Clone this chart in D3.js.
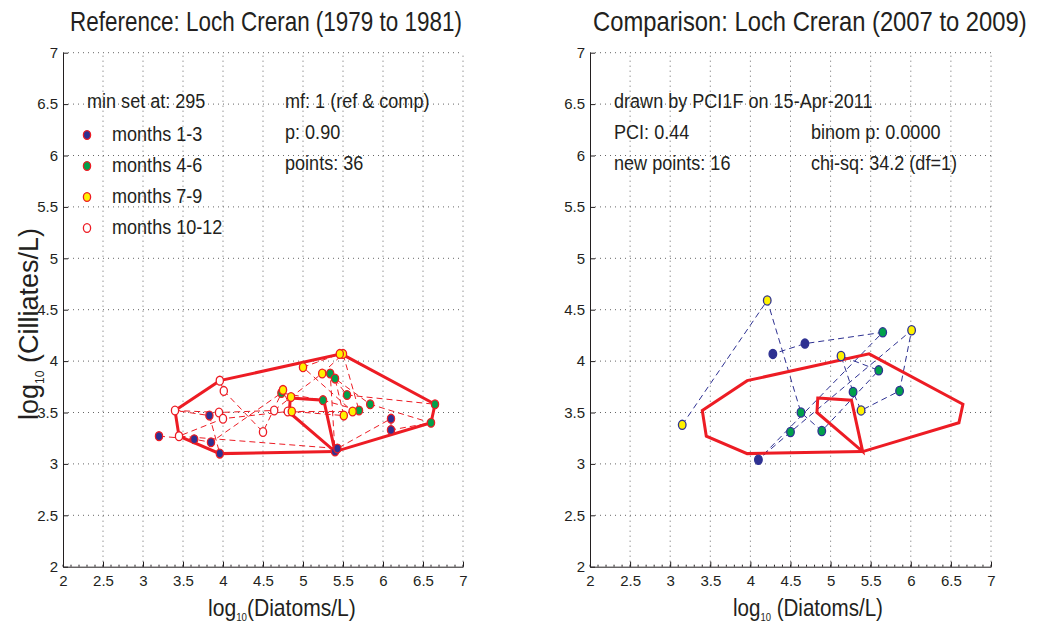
<!DOCTYPE html>
<html><head><meta charset="utf-8">
<script src="https://cdn.jsdelivr.net/npm/d3@7"></script>
<style>
body{margin:0;background:#fff;}
svg{display:block;}
text{font-family:"Liberation Sans Narrow","Arial Narrow","Liberation Sans",sans-serif;fill:#231f20;}
</style></head>
<body><svg id="c" width="1040" height="628"></svg>
<script>
// ---------- data ----------
const tickValues = [2,2.5,3,3.5,4,4.5,5,5.5,6,6.5,7];
const tickLabels = ["2","2.5","3","3.5","4","4.5","5","5.5","6","6.5","7"];
const groupNames = ["months 1-3","months 4-6","months 7-9","months 10-12"];

// reference 1979-1981, chronological order (group: 0 = months 1-3 ... 3 = months 10-12)
const refDiatoms = [3.20,3.64,3.85, 4.73,5.25,5.70, 5.50,5.24,4.85, 4.64,3.95,3.40,
                    3.83,3.96,5.40, 5.34,5.55,6.65, 5.46,5.00,5.62, 4.81,4.00,3.45,
                    5.43,6.10,6.10, 6.60,5.84,5.40, 5.51,4.86,4.75, 4.50,4.01,3.96];
const refCiliates = [3.27,3.24,3.21, 3.69,3.62,3.52, 4.07,3.88,3.65, 3.52,3.50,3.52,
                     3.47,3.10,3.12, 3.88,3.67,3.58, 4.07,3.94,3.51, 3.51,3.44,3.27,
                     3.15,3.44,3.33, 3.40,3.58,3.83, 3.47,3.51,3.72, 3.31,3.71,3.81];
const refGroup = [0,0,0,1,1,1,2,2,2,3,3,3, 0,0,0,1,1,1,2,2,2,3,3,3, 0,0,0,1,1,1,2,2,2,3,3,3];

// comparison 2007-2009
const cmpDiatoms  = [3.15,4.21,4.63,4.89,5.60,5.13,5.28,5.38,5.86,6.01,4.50,4.10,5.65,4.68,4.28];
const cmpCiliates = [3.38,4.59,3.50,3.32,3.91,4.05,3.70,3.52,3.71,4.30,3.31,3.04,4.28,4.17,4.07];
const cmpGroup    = [2,2,1,1,1,2,1,2,1,2,1,0,1,0,0];

// hull of the reference set
const hullOuterX = [3.40,3.96,5.48,6.65,6.60,5.40,3.96,3.45];
const hullOuterY = [3.52,3.81,4.07,3.58,3.40,3.12,3.10,3.27];
const hullInnerX = [4.84,5.26,5.40,4.83];
const hullInnerY = [3.64,3.62,3.12,3.50];

const refTitle = "Reference: Loch Creran (1979 to 1981)";
const cmpTitle = "Comparison: Loch Creran (2007 to 2009)";
const refNotesL = ["min set at: 295"];
const refNotesR = ["mf: 1 (ref & comp)","p: 0.90","points: 36"];
const cmpNotesL = ["drawn by PCI1F on 15-Apr-2011","PCI: 0.44","new points: 16"];
const cmpNotesR = ["binom p: 0.0000","chi-sq: 34.2 (df=1)"];

// ---------- drawing ----------
const RED="#ed1c24", NAVY="#2e3192", GREEN="#00a14b", YELLOW="#fff200";
const fills=[NAVY,GREEN,YELLOW,"#ffffff"];
const svg=d3.select("#c");
const yTop=52.7, yBot=566.7;

// place text at (x,y) and squeeze horizontally to a target width (mimics a condensed face)
function fit(t,x,y,w,rot){
  const bw=t.node().getBBox().width;
  const s=Math.min(1,w/bw);
  t.attr("transform",`translate(${x},${y})${rot?" rotate(-90)":""} scale(${s},1)`);
}

function panel(x0,x1,opts){
  const x=d3.scaleLinear().domain([2,7]).range([x0,x1]);
  const y=d3.scaleLinear().domain([2,7]).range([yBot,yTop]);
  const g=svg.append("g");
  g.selectAll(".gx").data(tickValues.slice(1)).join("line")
    .attr("x1",d=>x(d)).attr("x2",d=>x(d)).attr("y1",yBot).attr("y2",yTop)
    .attr("stroke","#666").attr("stroke-width",1).attr("stroke-dasharray","1,4");
  g.selectAll(".gy").data(tickValues.slice(1)).join("line")
    .attr("y1",d=>y(d)).attr("y2",d=>y(d)).attr("x1",x0).attr("x2",x1)
    .attr("stroke","#666").attr("stroke-width",1).attr("stroke-dasharray","1,4");
  const ax=g.append("g").attr("transform",`translate(0,${yBot})`)
    .call(d3.axisBottom(x).tickValues(tickValues).tickFormat((d,i)=>tickLabels[i]).tickSizeInner(-5).tickSizeOuter(0).tickPadding(9));
  const ay=g.append("g").attr("transform",`translate(${x0},0)`)
    .call(d3.axisLeft(y).tickValues(tickValues).tickFormat((d,i)=>tickLabels[i]).tickSizeInner(-5).tickSizeOuter(0).tickPadding(5));
  [ax,ay].forEach(a=>{a.select(".domain").attr("stroke","#231f20");a.selectAll("line").attr("stroke","#231f20");
    a.selectAll("text").attr("font-size",15).attr("fill","#231f20").style("font-family",'"Liberation Sans Narrow","Arial Narrow",sans-serif');});
  const minor=d3.range(2,7.001,0.1);
  g.selectAll(".mt").data(minor).join("line").attr("x1",d=>x(d)).attr("x2",d=>x(d))
    .attr("y1",yBot).attr("y2",yBot-2).attr("stroke","#231f20");
  const tt=g.append("text").attr("font-size",28).text(opts.title);
  fit(tt,opts.titleX,31,opts.titleLen);
  const xl=g.append("text").attr("font-size",24);
  xl.append("tspan").text("log");
  xl.append("tspan").attr("font-size",11).attr("dy",5).text("10");
  xl.append("tspan").attr("dy",-5).text(opts.xlabSep+"(Diatoms/L)");
  fit(xl,opts.xlabX,616,opts.xlabLen);
  return {x,y,g};
}

const L=panel(63,463,{title:refTitle,titleLen:392,titleX:70,xlabX:208,xlabSep:"",xlabLen:148});
const R=panel(590,991,{title:cmpTitle,titleLen:434,titleX:593,xlabX:733,xlabSep:" ",xlabLen:150});

const yl=svg.append("text").attr("font-size",27).style("font-family",'"Liberation Sans",Arial,sans-serif');
yl.append("tspan").text("log");
yl.append("tspan").attr("font-size",12).attr("dy",6).text("10");
yl.append("tspan").attr("dy",-6).text(" (Cilliates/L)");
fit(yl,38,420,226,true);

function hull(P,xs,ys){
  const pts=xs.map((v,i)=>[P.x(v),P.y(ys[i])]);
  P.g.append("path").attr("d",d3.line()(pts)+"Z").attr("fill","none").attr("stroke",RED)
    .attr("stroke-width",3).attr("stroke-linejoin","miter");
}
function track(P,xs,ys,col){
  const pts=xs.map((v,i)=>[P.x(v),P.y(ys[i])]);
  P.g.append("path").attr("d",d3.line()(pts)).attr("fill","none").attr("stroke",col)
    .attr("stroke-width",1).attr("stroke-dasharray","6,4");
}
function marks(P,xs,ys,gs,edge,rx,ry){
  P.g.selectAll(null).data(xs.map((v,i)=>({x:v,y:ys[i],g:gs[i]}))).join("ellipse")
    .attr("cx",d=>P.x(d.x)).attr("cy",d=>P.y(d.y)).attr("rx",rx).attr("ry",ry)
    .attr("fill",d=>fills[d.g]).attr("stroke",d=>edge(d.g)).attr("stroke-width",1.3);
}

track(L,refDiatoms,refCiliates,RED);
hull(L,hullOuterX,hullOuterY);
hull(L,hullInnerX,hullInnerY);
marks(L,refDiatoms,refCiliates,refGroup,()=>RED,3.6,4.4);

track(R,cmpDiatoms,cmpCiliates,NAVY);
hull(R,hullOuterX,hullOuterY);
hull(R,hullInnerX,hullInnerY);
marks(R,cmpDiatoms,cmpCiliates,cmpGroup,()=>NAVY,3.8,4.6);

const fs=21, sq=0.86;
function note(t,x,y){
  const el=svg.append("text").attr("font-size",fs).text(t);
  const w=el.node().getBBox().width;
  fit(el,x,y,w*sq);
}
note(refNotesL[0],87,108);
refNotesR.forEach((t,i)=>note(t,285,108+i*31));
groupNames.forEach((t,i)=>{
  const cy=135+i*31;
  svg.append("ellipse").attr("cx",87).attr("cy",cy).attr("rx",3.6).attr("ry",4.4)
    .attr("fill",fills[i]).attr("stroke",RED).attr("stroke-width",1.3);
  note(t,112,cy+6);
});
cmpNotesL.forEach((t,i)=>note(t,614,108+i*31));
cmpNotesR.forEach((t,i)=>note(t,811,139+i*31));
</script></body></html>
